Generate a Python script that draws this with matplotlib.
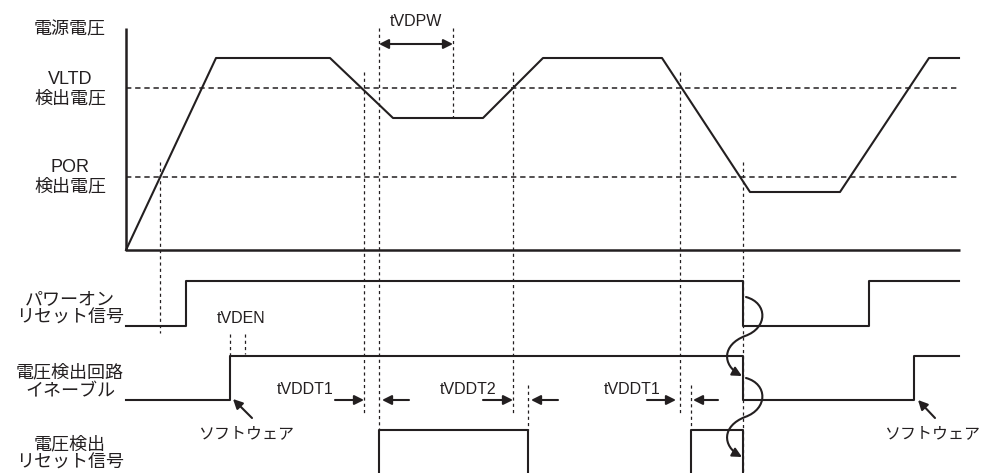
import numpy as np
import matplotlib.pyplot as plt
from matplotlib.path import Path
from matplotlib.patches import FancyArrowPatch

plt.rcParams['font.family'] = ['Liberation Sans', 'Noto Sans CJK JP']

ink = '#231f20'

# supply voltage waveform (time, level)
vdd_t = [126, 216, 330, 393, 483, 543, 662, 750, 840, 929, 959]
vdd_y = [250, 58, 58, 118, 118, 58, 58, 192, 192, 58, 58]
vltd_level = 88
por_level = 177

# digital signals: edge times and logic level after each edge
por_t = [126, 186, 743, 869, 959]
por_v = [0, 1, 0, 1, 1]
en_t = [126, 230, 743, 914, 959]
en_v = [0, 1, 0, 1, 1]
det_pulses = [(379, 528), (691, 743)]

# dashed timing markers: x, top, bottom
markers = [(160, 162, 333), (364, 72, 415), (379, 28, 430), (453, 28, 118),
           (513, 72, 415), (528, 385, 430), (680, 72, 415), (691, 385, 430),
           (743, 162, 473), (230, 334, 356), (245, 334, 354)]

row_labels = ['電源電圧', 'VLTD\n検出電圧', 'POR\n検出電圧', 'パワーオン\nリセット信号',
              '電圧検出回路\nイネーブル', '電圧検出\nリセット信号']
row_label_y = [30, 89, 177, 309, 382, 454]

fig = plt.figure(figsize=(9.82, 4.73), dpi=100)
ax = fig.add_axes([0, 0, 1, 1])
ax.set_xlim(0, 982)
ax.set_ylim(473, 0)
ax.axis('off')

# voltage panel frame
ax.plot([126, 126, 960], [28, 250, 250], color=ink, lw=1.8, solid_capstyle='butt')
ax.plot(vdd_t, vdd_y, color=ink, lw=1.5)
for lvl in (vltd_level, por_level):
    ax.plot([126, 958], [lvl, lvl], color=ink, lw=1.1, dashes=(3.5, 2.5))

for x, y0, y1 in markers:
    ax.plot([x, x], [y0, y1], color=ink, lw=0.9, dashes=(2.5, 2.5))

por_y = [281 if s else 326 for s in por_v]
ax.plot(por_t, por_y, color=ink, lw=1.5, drawstyle='steps-post')
en_y = [356 if s else 400 for s in en_v]
ax.plot(en_t, en_y, color=ink, lw=1.5, drawstyle='steps-post')
for s, e in det_pulses:
    ax.plot([s, s, e, e], [480, 430, 430, 480], color=ink, lw=1.5)

for lab, y in zip(row_labels, row_label_y):
    ax.text(70, y, lab, ha='center', va='center', fontsize=13, color=ink,
            linespacing=1.15)

ap = dict(arrowstyle='-|>', lw=1.5, color=ink, mutation_scale=14,
          shrinkA=0, shrinkB=0)
ax.annotate('', xy=(379, 44), xytext=(453, 44),
            arrowprops=dict(ap, arrowstyle='<|-|>'))
ax.text(416, 21, 'tVDPW', ha='center', va='center', fontsize=11.5, color=ink)
ax.text(241, 318, 'tVDEN', ha='center', va='center', fontsize=11.5, color=ink)

for txt, tx, xl, xr, pair in [('tVDDT1', 305, 335, 364, (409, 382)),
                              ('tVDDT2', 468, 483, 513, (558, 531)),
                              ('tVDDT1', 632, 647, 676, (718, 693))]:
    ax.text(tx, 389, txt, ha='center', va='center', fontsize=11.5, color=ink)
    ax.annotate('', xy=(xr, 400), xytext=(xl, 400), arrowprops=ap)
    ax.annotate('', xy=(pair[1], 400), xytext=(pair[0], 400), arrowprops=ap)

for cx, tail, head in [(246, (252, 418), (233, 399)), (932, (935, 418), (918, 400))]:
    ax.text(cx, 434, 'ソフトウェア', ha='center', va='center', fontsize=11.5, color=ink)
    ax.annotate('', xy=head, xytext=tail, arrowprops=ap)

# wavy causal arrows
for dy in (0, 81):
    verts = [(746, 297 + dy), (768, 303 + dy), (768, 328 + dy), (745, 336 + dy),
             (722, 345 + dy), (722, 365 + dy), (742, 376 + dy)]
    codes = [Path.MOVETO] + [Path.CURVE4] * 6
    ax.add_patch(FancyArrowPatch(path=Path(verts, codes), arrowstyle='-|>',
                                 mutation_scale=14, lw=1.5, color=ink))

fig.savefig('out.png', dpi=100)
